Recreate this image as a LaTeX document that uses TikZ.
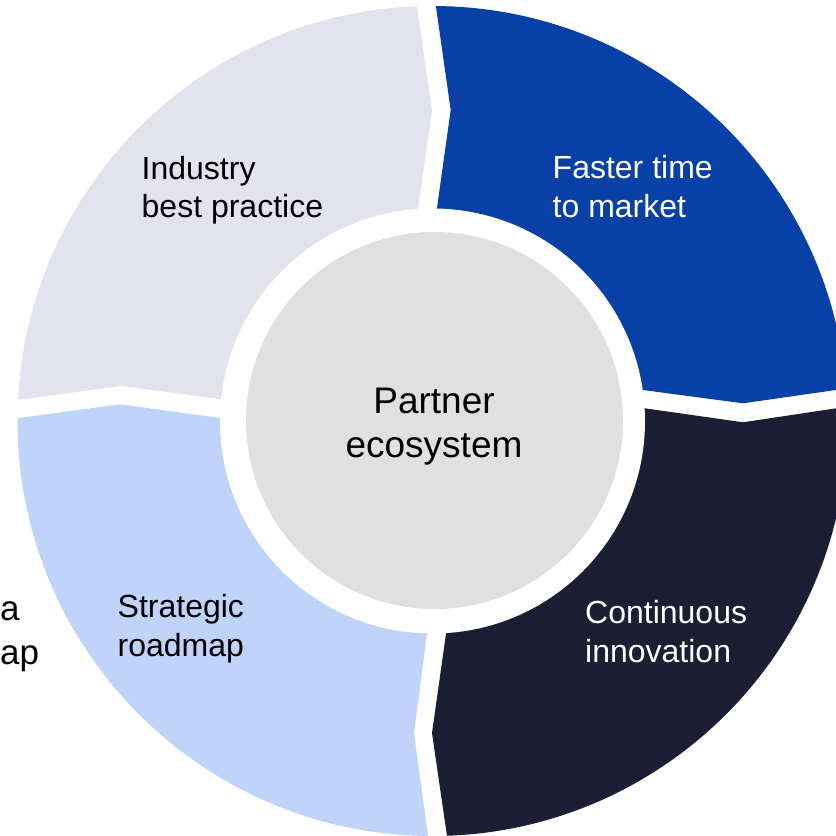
\documentclass[tikz,border=0pt]{standalone}
\usepackage{fontspec}
\setmainfont{Liberation Sans}
\definecolor{segL}{HTML}{E3E3F0}
\definecolor{segB}{HTML}{0840A8}
\definecolor{segN}{HTML}{1C1E33}
\definecolor{segS}{HTML}{C0D4FA}
\definecolor{hubgray}{HTML}{E0E0E0}
\begin{document}
\begin{tikzpicture}[x=1pt,y=-1pt,
  lbl/.style={anchor=base west, inner sep=0pt, align=left, font=\fontsize{32}{38.5}\selectfont},
  hubtext/.style={anchor=base, inner sep=0pt, align=center, font=\fontsize{37}{44}\selectfont}]
\useasboundingbox (0,0) rectangle (836,836);
\fill[white] (0,0) rectangle (836,836);
\coordinate (c) at (432.5,421);
\coordinate (h) at (434.5,420.5);
\begin{scope}
  \clip (c) circle (415pt);
  % top-left segment
  \fill[segL] (270,405.6) -- (121,386) -- (-40,407.7) -- (-40,-40) -- (410,-40) -- (432,110) -- (410.6,260) -- cycle;
  % top-right segment
  \fill[segB] (429.7,260) -- (450.7,110) -- (429.3,-40) -- (900,-40) -- (900,380.8) -- (743,403.3) -- (600,384.3) -- cycle;
  % bottom-right segment
  \fill[segN] (600,401.9) -- (743,422.3) -- (900,398.7) -- (900,880) -- (453.4,880) -- (432,733) -- (453.6,580) -- cycle;
  % bottom-left segment
  \fill[segS] (434.1,580) -- (414,733) -- (434,880) -- (-40,880) -- (-40,426) -- (120,404.3) -- (270,424.8) -- cycle;
\end{scope}
\fill[white] (c) circle (212.5pt);
\fill[hubgray] (h) circle (188.5pt);
\node[hubtext] (hub) at (434,457) {Partner\\ecosystem};
\node[lbl] (ind) at (141.5,217.5) {Industry\\best practice};
\node[lbl, text=white] (fast) at (552.5,217) {Faster time\\to market};
\node[lbl, text=white] (cont) at (585,662) {Continuous\\innovation};
\node[lbl] (strat) at (117.5,656) {Strategic\\roadmap};
\node[anchor=base west, inner sep=0pt, align=left, font=\fontsize{35}{44}\selectfont] (cut) at (0,664) {a\\ap};
\end{tikzpicture}
\end{document}
